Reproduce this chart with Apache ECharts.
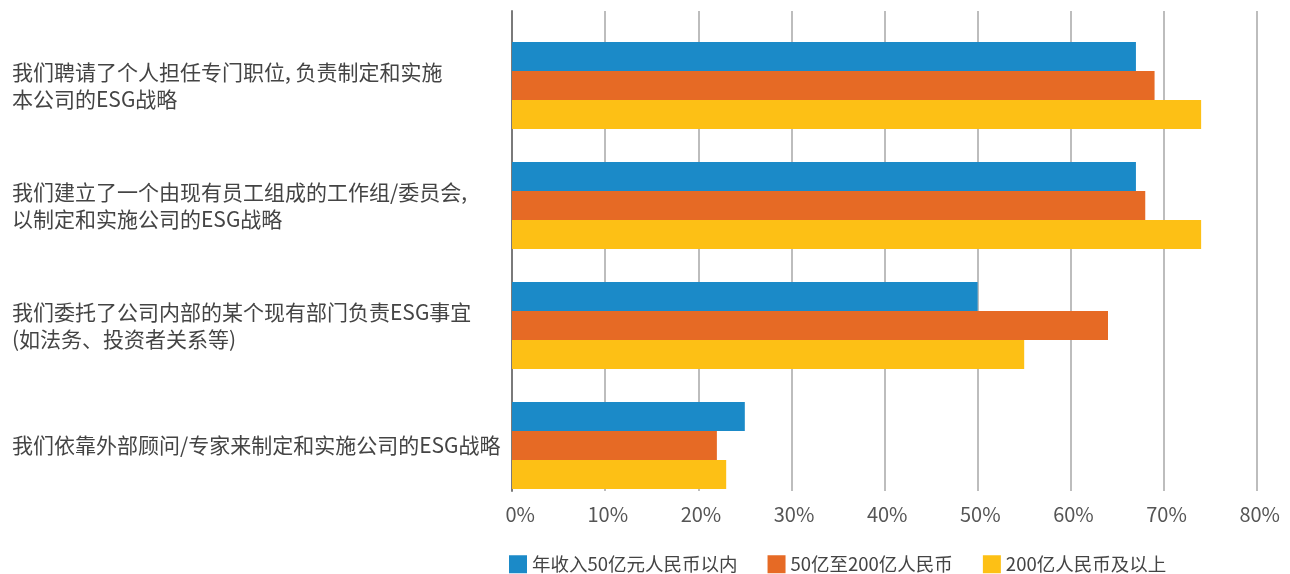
<!DOCTYPE html>
<html>
<head>
<meta charset="utf-8">
<script src="https://cdn.jsdelivr.net/npm/echarts@6/dist/echarts.min.js"></script>
<style>html,body{margin:0;padding:0;background:#fff;}#c{width:1290px;height:574px;}</style>
</head>
<body>
<div id="c"></div>
<script>
var categories = [
  "我们聘请了个人担任专门职位, 负责制定和实施\n本公司的ESG战略",
  "我们建立了一个由现有员工组成的工作组/委员会,\n以制定和实施公司的ESG战略",
  "我们委托了公司内部的某个现有部门负责ESG事宜\n(如法务、投资者关系等)",
  "我们依靠外部顾问/专家来制定和实施公司的ESG战略"
];
var seriesNames = ["年收入50亿元人民币以内", "50亿至200亿人民币", "200亿人民币及以上"];
var smallCo = [67, 67, 50, 25];
var midCo = [69, 68, 64, 22];
var largeCo = [74, 74, 55, 23];
var xTicks = [0, 10, 20, 30, 40, 50, 60, 70, 80];

var colors = ["#1B8AC8", "#E66A25", "#FDC015"];
var font = "'Noto Sans CJK SC', 'Noto Sans', sans-serif";
var chart = echarts.init(document.getElementById('c'));
var mk = function(name, data, color) {
  return {
    name: name, type: 'bar', data: data, barGap: '0%', barCategoryGap: '3.4%',
    itemStyle: { color: color }, silent: true
  };
};
chart.setOption({
  animation: false,
  textStyle: { fontFamily: font },
  legend: {
    data: seriesNames,
    left: 504, top: 550,
    itemWidth: 18, itemHeight: 18, itemGap: 30,
    icon: 'rect',
    textStyle: { fontSize: 18.5, color: '#444', fontFamily: font }
  },
  grid: { left: 512, top: 11, width: 745, height: 480, containLabel: false },
  xAxis: {
    type: 'value', min: xTicks[0], max: xTicks[xTicks.length - 1], interval: 10,
    axisLine: { show: false }, axisTick: { show: false },
    splitLine: { show: true, lineStyle: { color: '#BDBDBD', width: 2 } },
    axisLabel: {
      margin: 13, fontFamily: font,
      formatter: function (v) { return '{a|' + v + '%}'; },
      rich: { a: { width: 46, align: 'right', fontSize: 20, color: '#555', fontFamily: font } }
    }
  },
  yAxis: {
    type: 'category', data: categories, inverse: true,
    axisLine: { show: true, lineStyle: { color: '#7a7a7a', width: 2 } },
    axisTick: { show: false },
    axisLabel: {
      align: 'left', margin: 500, fontFamily: font,
      formatter: function (v) {
        return '{sp| }\n' + v.split('\n').map(function (l) { return '{t|' + l + '}'; }).join('\n');
      },
      rich: {
        sp: { fontSize: 10, lineHeight: 29, height: 29 },
        t: { fontSize: 21, lineHeight: 27, color: '#444', fontFamily: font }
      }
    }
  },
  series: [
    { name: '_spacer', type: 'bar', data: [null, null, null, null], barGap: '0%', barCategoryGap: '3.4%', silent: true, itemStyle: { color: 'transparent' } },
    mk(seriesNames[0], smallCo, colors[0]),
    mk(seriesNames[1], midCo, colors[1]),
    mk(seriesNames[2], largeCo, colors[2])
  ]
});
</script>
</body>
</html>
